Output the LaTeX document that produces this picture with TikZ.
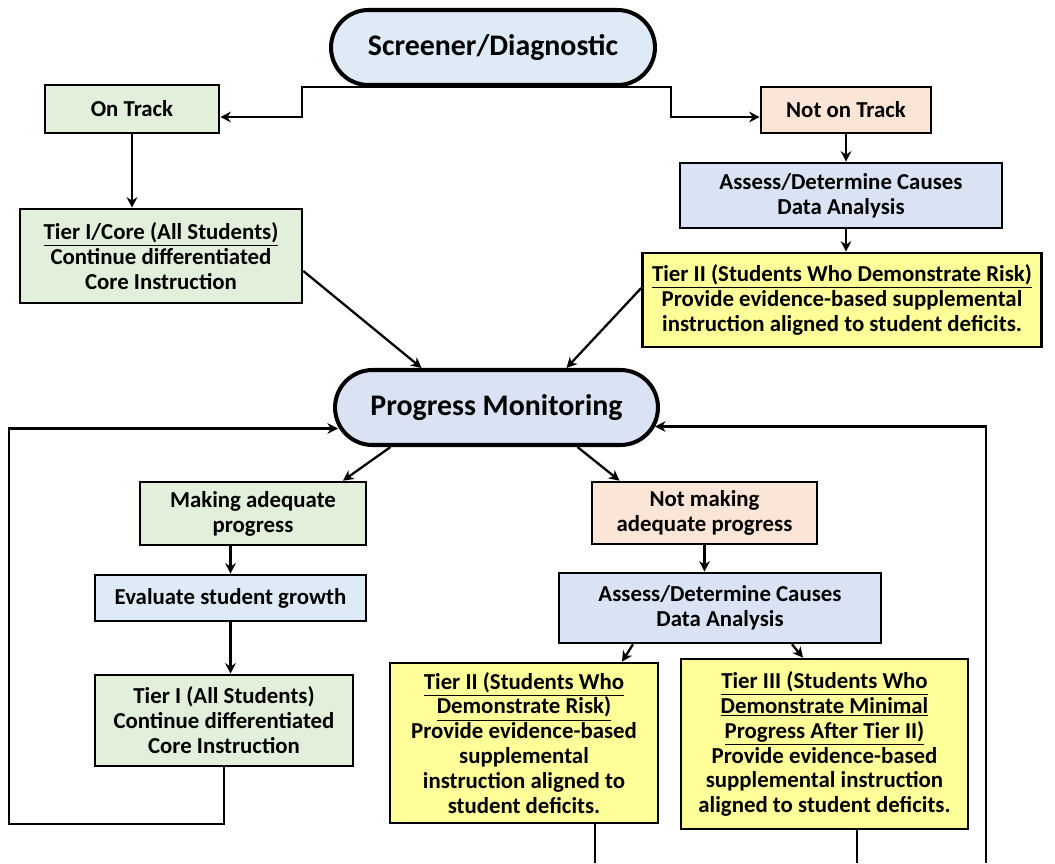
\documentclass[tikz,border=0pt]{standalone}
\usepackage{fontspec}
\setmainfont{Carlito}
\usepackage{xcolor}
\usepackage{tikz}
\usetikzlibrary{arrows.meta}
\definecolor{lblue}{HTML}{DEEBF7}
\definecolor{lpurp}{HTML}{DAE3F3}
\definecolor{lgreen}{HTML}{E2EFDA}
\definecolor{lpeach}{HTML}{FBE5D6}
\definecolor{lyellow}{HTML}{FFFF99}

\begin{document}
\begin{tikzpicture}[x=0.02cm,y=-0.02cm,
  box/.style={draw,line width=1.5pt,align=center,inner sep=0pt,font=\fontsize{13}{14.2}\selectfont\bfseries},
  oval/.style={draw,line width=2.3pt,rounded corners=0.75cm,inner sep=0pt,font=\fontsize{17}{20}\selectfont\bfseries},
  link/.style={line width=1.3pt},
  arr/.style={-{Stealth[length=6pt,width=6pt]},line width=1.3pt}]
\useasboundingbox (0,0) rectangle (1055,863);

\node[oval,fill=lblue,minimum width=6.48cm,minimum height=1.5cm] (1) at (493,47.5) {Screener/Diagnostic};

\node[box,fill=lgreen,minimum width=3.48cm,minimum height=0.96cm] (2) at (132,109) {On Track};

\node[box,fill=lpeach,minimum width=3.4cm,minimum height=0.92cm] (3) at (846,110) {Not on Track};

\node[box,fill=lgreen,minimum width=5.64cm,minimum height=1.88cm] (4) at (161,256) {\underline{Tier I/Core (All Students)}\\Continue differentiated\\Core Instruction};

\node[box,fill=lpurp,minimum width=6.44cm,minimum height=1.3cm] (5) at (841,195.5) {Assess/Determine Causes\\Data Analysis};

\node[box,fill=lyellow,minimum width=7.98cm,minimum height=1.88cm] (6) at (842,300) {\underline{Tier II (Students Who Demonstrate Risk)}\\Provide evidence-based supplemental\\instruction aligned to student deficits.};

\node[oval,fill=lpurp,minimum width=6.46cm,minimum height=1.5cm] (7) at (496.5,407.5) {Progress Monitoring};

\node[box,fill=lgreen,minimum width=4.52cm,minimum height=1.26cm] (8) at (253,513.5) {Making adequate\\progress};

\node[box,fill=lpeach,minimum width=4.5cm,minimum height=1.24cm] (9) at (704.5,513) {Not making\\adequate progress};

\node[box,fill=lblue,minimum width=5.42cm,minimum height=0.92cm] (10) at (230.5,598) {Evaluate student growth};

\node[box,fill=lpurp,minimum width=6.44cm,minimum height=1.4cm] (11) at (720,608) {Assess/Determine Causes\\Data Analysis};

\node[box,fill=lgreen,minimum width=5.16cm,minimum height=1.82cm] (12) at (224,720.5) {Tier I (All Students)\\Continue differentiated\\Core Instruction};

\node[box,fill=lyellow,minimum width=5.36cm,minimum height=3.2cm] (13) at (524,743) {\underline{Tier II (Students Who}\\\underline{Demonstrate Risk)}\\Provide evidence-based\\supplemental\\instruction aligned to\\student deficits.};

\node[box,fill=lyellow,minimum width=5.74cm,minimum height=3.4cm] (14) at (824.5,744) {\underline{Tier III (Students Who}\\\underline{Demonstrate Minimal}\\\underline{Progress After Tier II)}\\Provide evidence-based\\supplemental instruction\\aligned to student deficits.};

\coordinate (b1) at (595,863);
\coordinate (b2) at (857,863);
\coordinate (b3) at (986,863);

\draw[arr] (1.south) -- ++(-191,0) |- ([yshift=-0.16cm]2.east);
\draw[arr] (1.south) -- ++(178,0) |- ([yshift=-0.14cm]3.west);
\draw[arr] (2.south) -- (2.south |- 4.north);
\draw[arr] (3.south) -- (3.south |- 5.north);
\draw[arr] (3.south |- 5.south) -- (3.south |- 6.north);
\draw[arr] ([yshift=-0.3cm]4.east) -- ([xshift=-1.5cm]7.north);
\draw[arr] ([yshift=0.24cm]6.west) -- ([xshift=1.4cm]7.north);
\draw[arr] ([xshift=-2.12cm]7.south) -- ([xshift=1.8cm]8.north);
\draw[arr] ([xshift=1.62cm]7.south) -- ([xshift=-1.7cm]9.north);
\draw[arr] (8.south -| 10.north) -- (10.north);
\draw[arr] (10.south) -- (10.south |- 12.north);
\draw[arr] (9.south) -- (9.south |- 11.north);
\draw[arr] ([xshift=-1.74cm]11.south) -- ([xshift=1.96cm]13.north);
\draw[arr] ([xshift=1.44cm]11.south) -- ([xshift=-0.43cm]14.north);
\draw[arr] (12.south) |- ++(-215,57) |- ([shift={(0.1cm,-0.42cm)}]7.west);
\draw[link] (13.south -| b1) -- (b1);
\draw[link] (14.south -| b2) -- (b2);
\draw[arr] (b3) |- ([shift={(-0.1cm,-0.38cm)}]7.east);
\end{tikzpicture}
\end{document}
